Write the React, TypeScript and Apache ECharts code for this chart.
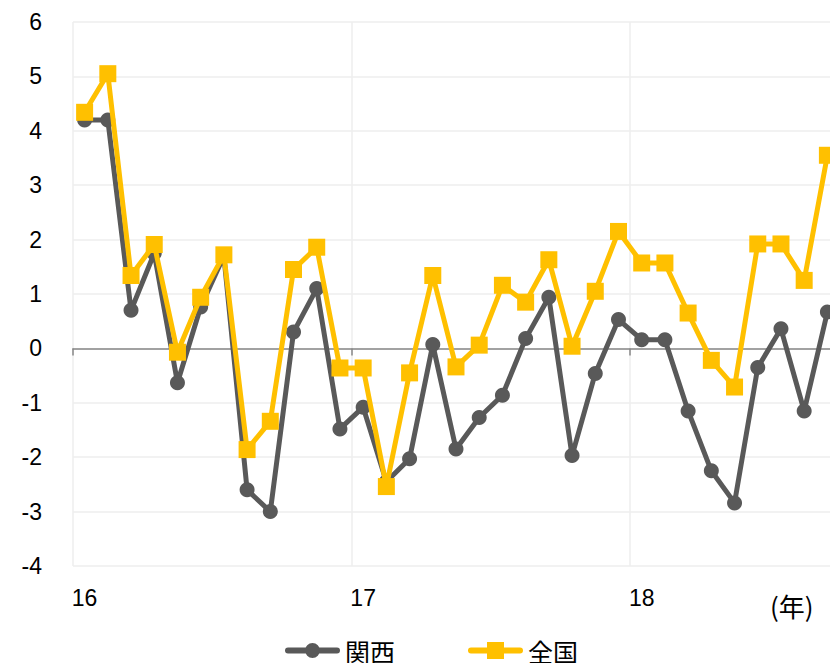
import React, { useEffect, useRef } from "react";
import * as echarts from "echarts";

const yearLabels = ["16", "17", "18"];
const monthsShown = [12, 12, 9];
const categories: string[] = [];
yearLabels.forEach((y, i) => {
  for (let m = 1; m <= monthsShown[i]; m++) categories.push(`${y}/${m}`);
});

const kansai = [
  4.2, 4.2, 0.7, 1.75, -0.63, 0.76, 1.7, -2.6, -3.0, 0.3, 1.1, -1.48,
  -1.08, -2.45, -2.03, 0.07, -1.85, -1.27, -0.86, 0.18, 0.94, -1.97, -0.46, 0.53,
  0.16, 0.16, -1.15, -2.25, -2.84, -0.35, 0.36, -1.15, 0.67,
];
const national = [
  4.34, 5.05, 1.34, 1.91, -0.07, 0.94, 1.72, -1.86, -1.34, 1.45, 1.86, -0.36,
  -0.36, -2.54, -0.45, 1.34, -0.34, 0.06, 1.16, 0.85, 1.63, 0.04, 1.05, 2.15,
  1.57, 1.57, 0.65, -0.22, -0.71, 1.92, 1.92, 1.25, 3.55,
];
const seriesNames = ["関西", "全国"];
const yTicks = { min: -4, max: 6, interval: 1 };

const FONT = "'Liberation Sans', Arial, sans-serif";
const CJK = "'Noto Sans CJK JP', sans-serif";

const GRAY = "#595959";
const YELLOW = "#FFC000";

const grayIcon =
  "path://M3,5.5 L52,5.5 A3,3 0 0,1 52,11.5 L3,11.5 A3,3 0 0,1 3,5.5 Z M20,8.5 A7.5,7.5 0 1,1 35,8.5 A7.5,7.5 0 1,1 20,8.5 Z";
const yellowIcon =
  "path://M3,5.5 L52,5.5 A3,3 0 0,1 52,11.5 L3,11.5 A3,3 0 0,1 3,5.5 Z M19,0 L36,0 L36,17 L19,17 Z";

export default function App() {
  const ref = useRef<HTMLDivElement>(null);
  useEffect(() => {
    document.body.style.margin = "0";
    const chart = echarts.init(ref.current!, null, { renderer: "svg" });
    chart.setOption({
      animation: false,
      backgroundColor: "#ffffff",
      grid: {
        left: 73,
        top: 22,
        width: 766,
        height: 544,
        containLabel: false,
        outerBoundsMode: "none",
      },
      legend: {
        data: [
          { name: seriesNames[0], icon: grayIcon, itemStyle: { color: GRAY } },
          { name: seriesNames[1], icon: yellowIcon, itemStyle: { color: YELLOW } },
        ],
        left: 285,
        top: 638,
        padding: 0,
        itemWidth: 55,
        itemHeight: 17,
        itemGap: 73,
        textStyle: { fontFamily: CJK, fontSize: 25, color: "#000" },
      },
      xAxis: [
        {
          type: "category",
          data: categories,
          boundaryGap: true,
          position: "bottom",
          axisLine: { onZero: true, lineStyle: { color: "#878787", width: 1.5 } },
          axisTick: { show: true, interval: 11, length: 7, lineStyle: { color: "#878787", width: 1.5 } },
          axisLabel: { show: false, interval: 11 },
          splitLine: { show: true, interval: 11, lineStyle: { color: "#eeeeee", width: 1.5 } },
        },
        {
          type: "category",
          data: categories,
          boundaryGap: true,
          position: "bottom",
          axisLine: { show: false, onZero: false },
          axisTick: { show: false },
          splitLine: { show: false },
          axisLabel: {
            interval: 11,
            margin: 20,
            fontFamily: FONT,
            fontSize: 23,
            color: "#000",
            formatter: (v: string) => v.split("/")[0],
          },
        },
      ],
      yAxis: {
        type: "value",
        min: yTicks.min,
        max: yTicks.max,
        interval: yTicks.interval,
        axisLine: { show: false },
        axisTick: { show: false },
        axisLabel: { fontFamily: FONT, fontSize: 23, color: "#000", margin: 31 },
        splitLine: { lineStyle: { color: "#eeeeee", width: 1.5 } },
      },
      graphic: [
        {
          type: "text",
          left: 770,
          top: 592,
          style: { text: "(年)", font: `26px ${CJK}`, fill: "#000" },
        },
      ],
      series: [
        {
          name: seriesNames[0],
          type: "line",
          xAxisIndex: 0,
          data: kansai,
          symbol: "circle",
          symbolSize: 15,
          showSymbol: true,
          showAllSymbol: true,
          lineStyle: { color: GRAY, width: 5 },
          itemStyle: { color: GRAY },
          z: 2,
        },
        {
          name: seriesNames[1],
          type: "line",
          xAxisIndex: 0,
          data: national,
          symbol: "rect",
          symbolSize: 17,
          showSymbol: true,
          showAllSymbol: true,
          lineStyle: { color: YELLOW, width: 5 },
          itemStyle: { color: YELLOW },
          z: 3,
        },
      ],
    });
    return () => chart.dispose();
  }, []);
  return <div ref={ref} style={{ width: 830, height: 663 }} />;
}
